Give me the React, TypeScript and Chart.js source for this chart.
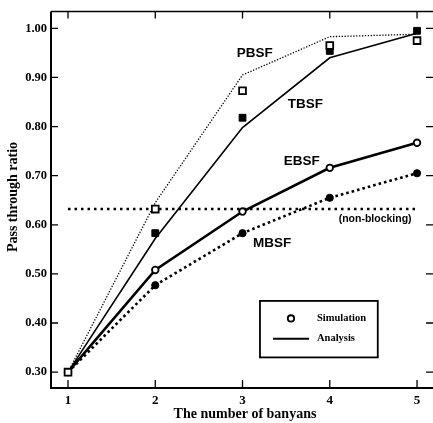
import React, { useEffect, useRef } from "react";
import { Chart, registerables } from "chart.js";

Chart.register(...registerables);

// ---- data ----
const banyans = [1, 2, 3, 4, 5];
const yTickValues = [0.3, 0.4, 0.5, 0.6, 0.7, 0.8, 0.9, 1.0];

const pbsfAnalysis = [0.3, 0.645, 0.905, 0.983, 0.988];
const tbsfAnalysis = [0.3, 0.572, 0.798, 0.94, 0.99];
const ebsfAnalysis = [0.3, 0.508, 0.627, 0.716, 0.767];
const mbsfAnalysis = [0.3, 0.477, 0.583, 0.655, 0.705];

const pbsfSimulation = [0.3, 0.632, 0.873, 0.965, 0.975];
const tbsfSimulation = [0.3, 0.583, 0.818, 0.954, 0.995];
const ebsfSimulation = [0.3, 0.508, 0.627, 0.716, 0.767];
const mbsfSimulation = [0.3, 0.477, 0.583, 0.655, 0.705];

const nonBlockingRatio = 0.632;
const nonBlockingRange = [1, 5];

const seriesLabels = ["PBSF", "TBSF", "EBSF", "(non-blocking)", "MBSF"];
const legendLabels = ["Simulation", "Analysis"];
const xTitle = "The number of banyans";
const yTitle = "Pass through ratio";

// label anchors in data coordinates
const labelAnchorX = [3.14, 3.72, 3.68, 4.52, 3.34];
const labelAnchorY = [0.949, 0.846, 0.729, 0.612, 0.562];
// legend box corners in data coordinates
const legendBoxX = [3.2, 4.55];
const legendBoxY = [0.445, 0.33];

const pts = (vals: number[]) => banyans.map((b, i) => ({ x: b, y: vals[i] }));

const SERIF = "'Liberation Serif', 'DejaVu Serif', serif";
const SANS = "'Liberation Sans', Arial, sans-serif";

const framePlugin = {
  id: "frame",
  afterDatasetsDraw(chart: any) {
    const ctx: CanvasRenderingContext2D = chart.ctx;
    const { left, right, top, bottom } = chart.chartArea;
    const xs = chart.scales.x;
    const ys = chart.scales.y;
    ctx.save();
    ctx.strokeStyle = "#000";
    ctx.fillStyle = "#000";
    // spines
    ctx.lineWidth = 2;
    ctx.beginPath();
    ctx.moveTo(left, top);
    ctx.lineTo(left, bottom);
    ctx.lineTo(right, bottom);
    ctx.stroke();
    ctx.lineWidth = 1.5;
    ctx.beginPath();
    ctx.moveTo(left, top);
    ctx.lineTo(right, top);
    ctx.moveTo(right + 1, top);
    ctx.lineTo(right + 1, bottom);
    ctx.stroke();
    // inward ticks
    ctx.lineWidth = 1.3;
    ctx.beginPath();
    banyans.forEach((b) => {
      const px = xs.getPixelForValue(b);
      ctx.moveTo(px, bottom);
      ctx.lineTo(px, bottom - 8);
      ctx.moveTo(px, top);
      ctx.lineTo(px, top + 7);
    });
    yTickValues.forEach((v) => {
      const py = ys.getPixelForValue(v);
      ctx.moveTo(left, py);
      ctx.lineTo(left + 7, py);
      ctx.moveTo(right, py);
      ctx.lineTo(right - 7, py);
    });
    ctx.stroke();

    // series labels
    ctx.textAlign = "center";
    ctx.textBaseline = "middle";
    seriesLabels.forEach((t, i) => {
      const isSmall = t.startsWith("(");
      ctx.font = isSmall ? `bold 10.5px ${SANS}` : `bold 13.5px ${SANS}`;
      ctx.fillText(t, xs.getPixelForValue(labelAnchorX[i]), ys.getPixelForValue(labelAnchorY[i]));
    });

    // legend box
    const bx0 = xs.getPixelForValue(legendBoxX[0]);
    const bx1 = xs.getPixelForValue(legendBoxX[1]);
    const by0 = ys.getPixelForValue(legendBoxY[0]);
    const by1 = ys.getPixelForValue(legendBoxY[1]);
    ctx.fillStyle = "#fff";
    ctx.fillRect(bx0, by0, bx1 - bx0, by1 - by0);
    ctx.lineWidth = 1.8;
    ctx.strokeRect(bx0, by0, bx1 - bx0, by1 - by0);
    const rowY1 = by0 + (by1 - by0) * 0.31;
    const rowY2 = by0 + (by1 - by0) * 0.67;
    // open circle marker
    ctx.beginPath();
    ctx.arc(bx0 + 31, rowY1, 3.2, 0, Math.PI * 2);
    ctx.fillStyle = "#fff";
    ctx.fill();
    ctx.lineWidth = 1.8;
    ctx.stroke();
    // analysis line
    ctx.beginPath();
    ctx.lineWidth = 1.8;
    ctx.moveTo(bx0 + 13, rowY2);
    ctx.lineTo(bx0 + 49, rowY2);
    ctx.stroke();
    ctx.fillStyle = "#000";
    ctx.textAlign = "left";
    ctx.font = `bold 10.5px ${SERIF}`;
    ctx.fillText(legendLabels[0], bx0 + 57, rowY1);
    ctx.fillText(legendLabels[1], bx0 + 57, rowY2);

    // axis titles
    ctx.font = `bold 14px ${SERIF}`;
    ctx.textAlign = "center";
    ctx.fillText(xTitle, 245, 414);
    ctx.save();
    ctx.translate(13, 197);
    ctx.rotate(-Math.PI / 2);
    ctx.fillText(yTitle, 0, 0);
    ctx.restore();
    ctx.restore();
  },
};

export default function App() {
  const ref = useRef<HTMLCanvasElement>(null);
  useEffect(() => {
    document.body.style.margin = "0";
    const canvas = ref.current!;
    const chart = new Chart(canvas, {
      type: "line",
      data: {
        datasets: [
          {
            label: "PBSF sim",
            data: pts(pbsfSimulation),
            showLine: false,
            pointStyle: "rect",
            pointRadius: 4.8,
            pointBorderWidth: 1.8,
            pointBackgroundColor: "#fff",
            pointBorderColor: "#000",
            order: 1,
          },
          {
            label: "TBSF sim",
            data: pts(tbsfSimulation),
            showLine: false,
            pointStyle: "rect",
            pointRadius: 4.8,
            pointBorderWidth: 1,
            pointBackgroundColor: "#000",
            pointBorderColor: "#000",
            order: 2,
          },
          {
            label: "EBSF sim",
            data: pts(ebsfSimulation),
            showLine: false,
            pointStyle: "circle",
            pointRadius: 3.3,
            pointBorderWidth: 1.8,
            pointBackgroundColor: "#fff",
            pointBorderColor: "#000",
            order: 3,
          },
          {
            label: "MBSF sim",
            data: pts(mbsfSimulation),
            showLine: false,
            pointStyle: "circle",
            pointRadius: 3.6,
            pointBorderWidth: 1,
            pointBackgroundColor: "#000",
            pointBorderColor: "#000",
            order: 4,
          },
          {
            label: "PBSF",
            data: pts(pbsfAnalysis),
            borderColor: "#000",
            borderWidth: 1.3,
            borderDash: [1.3, 1.6],
            pointRadius: 0,
            tension: 0,
            order: 10,
          },
          {
            label: "TBSF",
            data: pts(tbsfAnalysis),
            borderColor: "#000",
            borderWidth: 1.6,
            pointRadius: 0,
            tension: 0,
            order: 11,
          },
          {
            label: "EBSF",
            data: pts(ebsfAnalysis),
            borderColor: "#000",
            borderWidth: 2.6,
            pointRadius: 0,
            tension: 0,
            order: 12,
          },
          {
            label: "MBSF",
            data: pts(mbsfAnalysis),
            borderColor: "#000",
            borderWidth: 2.6,
            borderDash: [2.6, 3],
            pointRadius: 0,
            tension: 0,
            order: 13,
          },
          {
            label: "non-blocking",
            data: nonBlockingRange.map((x) => ({ x, y: nonBlockingRatio })),
            borderColor: "#000",
            borderWidth: 2.5,
            borderDash: [2.5, 4],
            pointRadius: 0,
            order: 14,
          },
        ],
      },
      options: {
        animation: false,
        responsive: false,
        devicePixelRatio: 1,
        layout: { autoPadding: false, padding: { top: 8, right: 0, left: 0, bottom: 0 } },
        plugins: { legend: { display: false }, tooltip: { enabled: false } },
        scales: {
          x: {
            type: "linear",
            min: 0.805,
            max: 5.183,
            grid: { display: false, drawTicks: false },
            border: { display: false },
            afterBuildTicks: (s: any) => {
              s.ticks = banyans.map((v) => ({ value: v }));
            },
            afterFit: (s: any) => {
              s.height = 35;
            },
            ticks: {
              color: "#000",
              padding: 5,
              font: { family: SERIF, weight: "bold", size: 13 },
              callback: (v: any) => String(v),
            },
          },
          y: {
            type: "linear",
            min: 0.2677,
            max: 1.0343,
            grid: { display: false, drawTicks: false },
            border: { display: false },
            afterBuildTicks: (s: any) => {
              s.ticks = yTickValues.map((v) => ({ value: v }));
            },
            afterFit: (s: any) => {
              s.width = 51;
            },
            ticks: {
              color: "#000",
              padding: 4,
              font: { family: SERIF, weight: "bold", size: 12.5 },
              callback: (v: any) => Number(v).toFixed(2),
            },
          },
        },
      } as any,
      plugins: [framePlugin],
    });
    return () => chart.destroy();
  }, []);
  return (
    <div style={{ width: 433, height: 423, background: "#fff" }}>
      <canvas ref={ref} width={433} height={423} />
    </div>
  );
}
